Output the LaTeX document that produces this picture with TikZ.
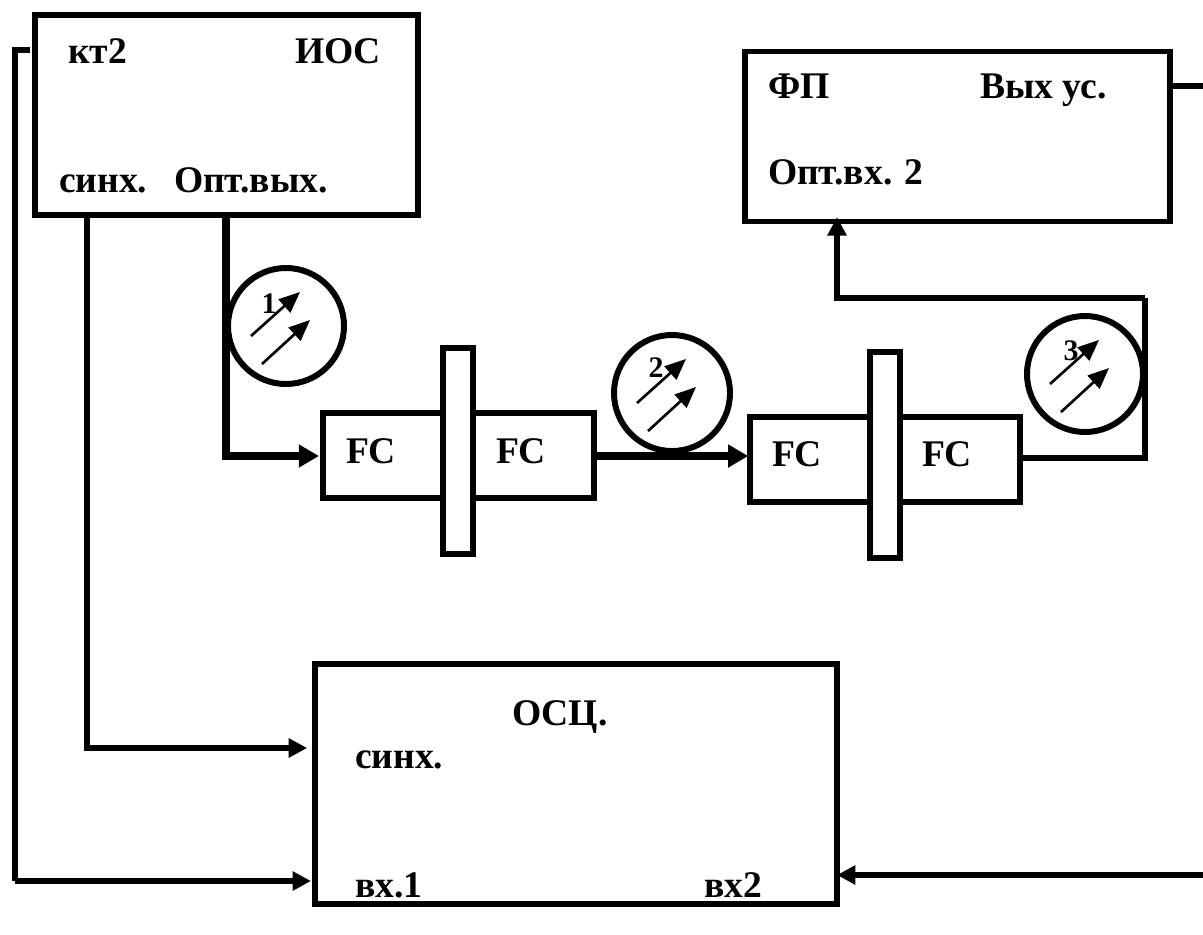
\documentclass[tikz,border=0pt]{standalone}
\usepackage{fontspec}
\setmainfont{Liberation Serif}
\usetikzlibrary{arrows.meta}

\begin{document}
\begin{tikzpicture}[
    x=0.02cm, y=-0.02cm,
    block/.style={rectangle, draw, fill=white, line width=3.4pt, outer sep=0pt, inner sep=0pt},
    fcbox/.style={block, minimum width=271*0.02cm, minimum height=85*0.02cm},
    bar/.style={block, minimum width=30*0.02cm, minimum height=206*0.02cm},
    coil/.style={circle, draw, line width=3.4pt, outer sep=0pt, inner sep=0pt, minimum size=116*0.02cm},
    lbl/.style={anchor=base west, inner sep=0pt, outer sep=0pt, font=\fontsize{21.4}{24}\selectfont\bfseries},
    num/.style={anchor=base, inner sep=0pt, outer sep=0pt, font=\fontsize{17}{19}\selectfont\bfseries},
    ray/.style={-{Triangle[length=12pt,width=10pt]}, line width=1.5pt},
    arrow/.style={-{Triangle[length=10.5pt,width=10.5pt]}, line width=3.1pt},
    bigarrow/.style={-{Triangle[length=11.5pt,width=12.5pt]}, line width=4.4pt},
    wire/.style={line width=3.1pt}
]
    \useasboundingbox (0,0) rectangle (1203,934);

    % Coils
    \node[coil] (coil1) at (286,326) {};
    \node[coil] (coil2) at (672,393) {};
    \node[coil] (coil3) at (1085,374) {};
    \foreach \c/\n/\dx/\dy in {coil1/1/-17/-13, coil2/2/-16/-16, coil3/3/-14/-14} {
        \draw[ray] ([shift={(-35,10)}]\c.center) -- ++(49,-44);
        \draw[ray] ([shift={(-24,38)}]\c.center) -- ++(48,-44);
        \node[num] (n\n) at ([shift={(\dx,\dy)}]\c.center) {\n};
    }

    % Blocks
    \node[block, minimum width=383*0.02cm, minimum height=200*0.02cm] (ios) at (226.5,115) {};
    \node[block, minimum width=425*0.02cm, minimum height=170*0.02cm] (fp) at (957.5,136.5) {};
    \node[block, minimum width=522*0.02cm, minimum height=240*0.02cm] (osc) at (576,784) {};
    \node[fcbox] (fc1) at (458.5,455.5) {};
    \node[bar] (bar1) at (458,451) {};
    \node[fcbox, minimum width=270*0.02cm] (fc2) at (885,459.5) {};
    \node[bar] (bar2) at (885,455) {};

    % Texts
    \node[lbl] (t1) at (68,63) {кт2};
    \node[lbl] (t2) at (295,63) {ИОС};
    \node[lbl] (t3) at (59,192) {синх.};
    \node[lbl] (t4) at (174,192) {Опт.вых.};
    \node[lbl] (t5) at (768,98) {ФП};
    \node[lbl] (t6) at (980,98) {Вых ус.};
    \node[lbl] (t7) at (768,184) {Опт.вх. 2};
    \node[lbl] (t8) at (346,463) {FC};
    \node[lbl] (t9) at (496,463) {FC};
    \node[lbl] (t10) at (772,466) {FC};
    \node[lbl] (t11) at (922,466) {FC};
    \node[lbl] (t12) at (512,725) {ОСЦ.};
    \node[lbl] (t13) at (355,768) {синх.};
    \node[lbl] (t14) at (355,897) {вх.1};
    \node[lbl] (t15) at (704,897) {вх2};

    % Free ends
    \coordinate (kt) at (30,50);
    \coordinate (syncout) at (87,218);
    \coordinate (optout) at (226,218);
    \coordinate (loopa) at (1145,298);
    \coordinate (loopb) at (1145,458);
    \coordinate (fpout) at (1203,86);
    \coordinate (oscin) at (1203,875);

    % Signal lines
    \draw[wire] (kt) -- (15,50) -- (15,881) coordinate (kd);
    \draw[arrow, shorten >=2.3pt] (kd) -- (osc.west |- kd);
    \draw[arrow, shorten >=4.5pt] (syncout) |- (osc.west |- 0,748);
    \draw[bigarrow, shorten >=2.3pt] (optout) |- (fc1.west |- 0,456);
    \draw[bigarrow, shorten >=1pt] (fc1.east |- 0,456) -- (fc2.west |- 0,456);
    \draw[wire] (fc2.east |- loopb) -- (loopb) -- (loopa);
    \draw[arrow, shorten >=-2.5pt] (loopa) -| (fp.south -| 837,0);
    \draw[wire] (fp.east |- fpout) -- (fpout);
    \draw[arrow] (oscin) -- (osc.east |- oscin);
\end{tikzpicture}
\end{document}
